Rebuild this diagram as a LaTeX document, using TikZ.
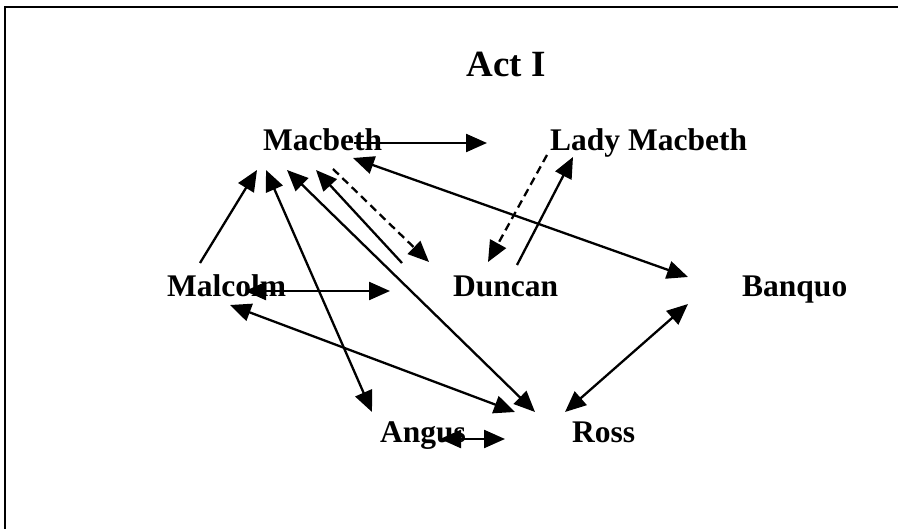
\documentclass[tikz,border=0pt]{standalone}
\usepackage{fontspec}
\setmainfont{Liberation Serif}
\usetikzlibrary{arrows.meta,calc}
\tikzset{
  lbl/.style={font=\bfseries\fontsize{31.5}{36}\selectfont, inner sep=0pt, anchor=base west},
  ttl/.style={font=\bfseries\fontsize{37}{42}\selectfont, inner sep=0pt, anchor=base},
  tip/.tip={Triangle[length=21pt,width=18pt]},
  conn/.style={line width=2.3pt, -tip},
  both/.style={line width=2.3pt, tip-tip},
  dconn/.style={line width=2.3pt, -tip, dash pattern=on 8pt off 5pt},
  frame/.style={line width=2.3pt}
}
\begin{document}
\begin{tikzpicture}[x=1pt,y=-1pt]
\useasboundingbox (0,0) rectangle (898,529);
\coordinate (fbl) at (5,529);
\coordinate (ftl) at (5,7);
\coordinate (ftr) at (898,7);
\draw[frame] (fbl) -- (ftl) -- (ftr);

\node[ttl] (act) at (506,77) {Act I};
\node[lbl] (mac) at (263,151) {Macbeth};
\node[lbl] (lady) at (550,151) {Lady Macbeth};
\node[lbl] (mal) at (167,297) {Malcolm};
\node[lbl] (dun) at (453,297) {Duncan};
\node[lbl] (ban) at (742,297) {Banquo};
\node[lbl] (ang) at (380,443) {Angus};
\node[lbl] (ross) at (572,443) {Ross};

% Macbeth -> Lady Macbeth
\draw[conn] ($(mac.base west)+(91,-8)$) -- ($(lady.base west)+(-63,-8)$);
% Malcolm -> Macbeth
\draw[conn] ($(mal.base west)+(33,-34)$) -- ($(mac.base west)+(-6,19)$);
% Angus <-> Macbeth
\draw[both] ($(mac.base west)+(3,19)$) -- ($(ang.base west)+(-8,-31)$);
% Ross <-> Macbeth
\draw[both] ($(mac.base west)+(24,19)$) -- ($(ross.base west)+(-37,-31)$);
% Duncan -> Macbeth
\draw[conn] ($(dun.base west)+(-51,-34)$) -- ($(mac.base west)+(53,19)$);
% Macbeth -> Duncan (dashed)
\draw[dconn] ($(mac.base west)+(70,18)$) -- ($(dun.base west)+(-24,-35)$);
% Lady Macbeth -> Duncan (dashed)
\draw[dconn] ($(lady.base west)+(-3,4)$) -- ($(dun.base west)+(35,-35)$);
% Duncan -> Lady Macbeth
\draw[conn] ($(dun.base west)+(64,-32)$) -- ($(lady.base west)+(23,6)$);
% Banquo <-> Macbeth
\draw[both] ($(mac.base west)+(90,7)$) -- ($(ban.base west)+(-54,-20)$);
% Banquo <-> Ross
\draw[both] ($(ban.base west)+(-54,7)$) -- ($(ross.base west)+(-7,-31)$);
% Malcolm <-> Duncan
\draw[both] ($(mal.base west)+(78,-6)$) -- ($(dun.base west)+(-63,-6)$);
% Malcolm <-> Ross
\draw[both] ($(mal.base west)+(63,8)$) -- ($(ross.base west)+(-57,-31)$);
% Angus <-> Ross
\draw[both] ($(ang.base west)+(60,-4)$) -- ($(ross.base west)+(-67,-4)$);
\end{tikzpicture}
\end{document}
